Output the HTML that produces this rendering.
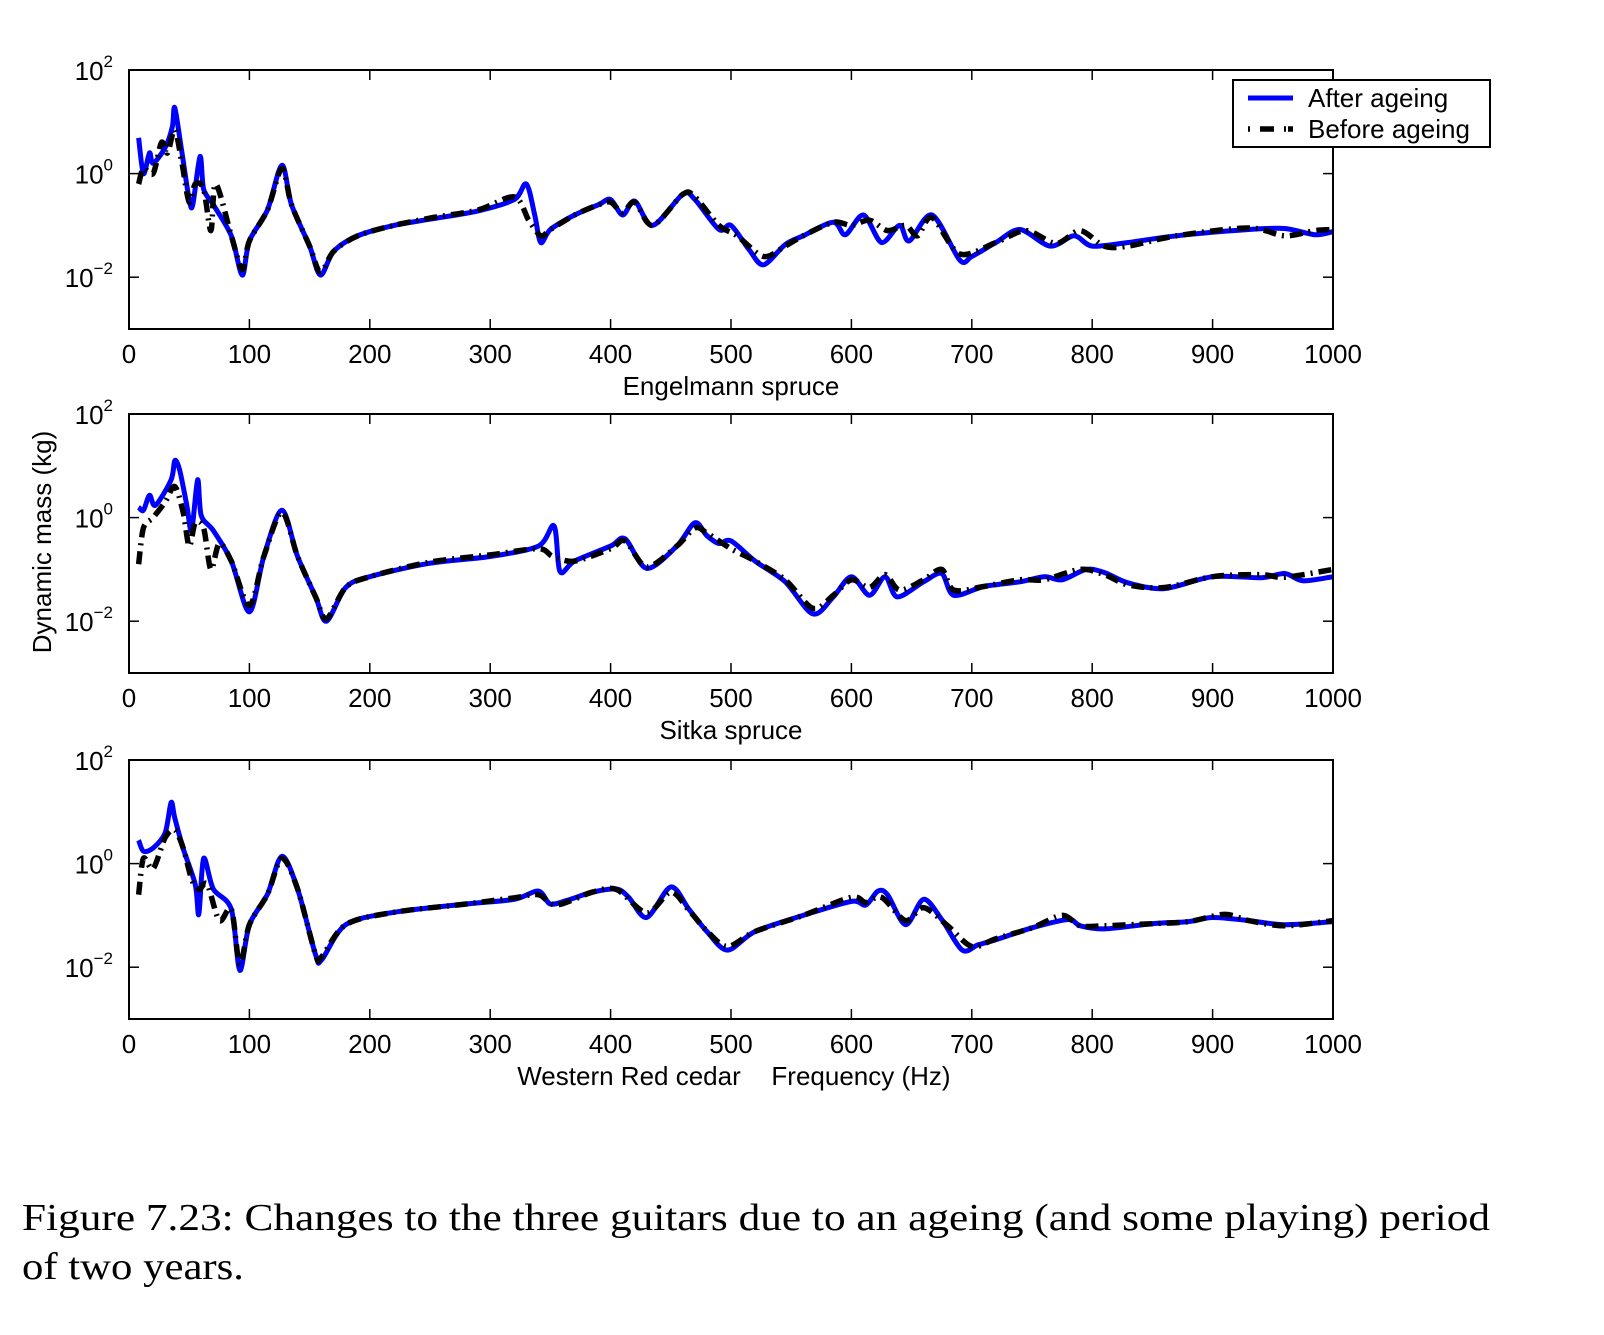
<!DOCTYPE html>
<html><head><meta charset="utf-8"><style>
body{margin:0;background:#fff;}
svg text{font-family:"Liberation Sans",sans-serif;fill:#000;}
</style></head><body>
<svg id="fig" width="1604" height="1330" viewBox="0 0 1604 1330" xmlns="http://www.w3.org/2000/svg">
<g id="root"></g>
<text x="44" y="542" font-size="26" transform="rotate(-90 44 542)" text-anchor="middle" dominant-baseline="middle">Dynamic mass (kg)</text>
<text x="22" y="1230" font-size="38" textLength="1468" lengthAdjust="spacingAndGlyphs" style="font-family:'Liberation Serif',serif">Figure 7.23:  Changes to the three guitars due to an ageing (and some playing) period</text>
<text x="22" y="1279" font-size="38" textLength="222" lengthAdjust="spacingAndGlyphs" style="font-family:'Liberation Serif',serif">of two years.</text>
</svg>
<script>
const xTicks=[0,100,200,300,400,500,600,700,800,900,1000];
const yTickExp=[2,0,-2];
const panelTitles=["Engelmann spruce","Sitka spruce","Western Red cedar"];
// [freq Hz, log10(kg)]
const after1=[[8,0.69],[12,0],[17,0.4],[20,0.2],[30,0.5],[36,0.9],[38,1.27],[44,0.4],[50,-0.5],[53,-0.6],[59,0.33],[62,-0.3],[70,-0.6],[85,-1.2],[94,-1.96],[100,-1.3],[115,-0.7],[127,0.16],[135,-0.6],[150,-1.4],[159,-1.96],[170,-1.5],[190,-1.2],[220,-1.0],[250,-0.88],[290,-0.72],[320,-0.5],[330,-0.2],[337,-0.8],[342,-1.33],[350,-1.08],[370,-0.8],[390,-0.6],[400,-0.5],[410,-0.8],[420,-0.53],[435,-1.0],[460,-0.4],[470,-0.5],[490,-1.08],[500,-1.0],[515,-1.47],[527,-1.76],[545,-1.37],[560,-1.2],[585,-0.94],[595,-1.18],[610,-0.8],[625,-1.33],[640,-1.0],[648,-1.3],[667,-0.8],[690,-1.67],[700,-1.6],[720,-1.33],[740,-1.08],[765,-1.4],[785,-1.2],[800,-1.4],[830,-1.33],[870,-1.2],[930,-1.08],[960,-1.06],[985,-1.18],[1000,-1.12]];
const before1=[[8,-0.2],[12,0.1],[20,0.0],[27,0.6],[32,0.4],[38,0.85],[44,0.2],[50,-0.55],[55,-0.2],[62,-0.3],[68,-1.1],[72,-0.2],[85,-1.2],[94,-1.85],[100,-1.3],[115,-0.7],[127,0.1],[135,-0.6],[150,-1.4],[159,-1.9],[170,-1.5],[190,-1.2],[220,-1.0],[250,-0.86],[290,-0.7],[320,-0.45],[332,-0.9],[342,-1.2],[350,-1.08],[370,-0.8],[390,-0.6],[400,-0.55],[410,-0.75],[420,-0.55],[435,-1.0],[460,-0.4],[470,-0.45],[490,-1.0],[505,-1.2],[527,-1.6],[545,-1.4],[560,-1.2],[585,-0.94],[600,-1.0],[615,-0.9],[630,-1.1],[645,-1.0],[655,-1.2],[667,-0.85],[690,-1.55],[720,-1.33],[745,-1.1],[770,-1.35],[790,-1.1],[810,-1.4],[830,-1.4],[870,-1.2],[930,-1.05],[960,-1.2],[985,-1.1],[1000,-1.08]];
const after2=[[8,0.2],[12,0.14],[17,0.43],[22,0.24],[35,0.73],[38,1.1],[42,0.92],[48,0.24],[52,-0.25],[57,0.73],[60,0.04],[70,-0.25],[85,-0.84],[100,-1.82],[112,-0.75],[127,0.14],[140,-0.75],[155,-1.53],[164,-2.0],[180,-1.35],[200,-1.14],[250,-0.88],[300,-0.75],[340,-0.55],[353,-0.16],[358,-1.04],[370,-0.84],[400,-0.55],[412,-0.41],[430,-0.98],[455,-0.55],[470,-0.1],[480,-0.35],[490,-0.5],[500,-0.45],[520,-0.84],[545,-1.24],[568,-1.86],[585,-1.53],[600,-1.14],[615,-1.5],[628,-1.14],[638,-1.53],[660,-1.24],[675,-1.08],[685,-1.5],[710,-1.33],[740,-1.24],[760,-1.14],[775,-1.2],[795,-1.0],[810,-1.06],[830,-1.26],[860,-1.37],[900,-1.14],[940,-1.16],[960,-1.08],[975,-1.22],[1000,-1.14]];
const before2=[[8,-0.9],[12,-0.2],[20,0.0],[30,0.3],[38,0.6],[45,0.1],[50,-0.55],[55,-0.1],[62,-0.2],[68,-1.0],[75,-0.5],[85,-0.84],[100,-1.7],[112,-0.75],[127,0.1],[140,-0.75],[155,-1.53],[164,-1.95],[180,-1.35],[200,-1.14],[250,-0.86],[300,-0.72],[340,-0.6],[352,-0.75],[370,-0.84],[400,-0.6],[412,-0.45],[430,-0.95],[455,-0.55],[470,-0.2],[480,-0.3],[500,-0.6],[520,-0.84],[545,-1.2],[568,-1.75],[585,-1.5],[600,-1.2],[615,-1.35],[628,-1.1],[640,-1.4],[660,-1.2],[675,-1.0],[685,-1.4],[710,-1.33],[740,-1.2],[760,-1.2],[790,-1.0],[810,-1.1],[830,-1.3],[860,-1.35],[900,-1.14],[940,-1.1],[960,-1.15],[1000,-1.0]];
const after3=[[8,0.45],[12,0.24],[20,0.3],[30,0.59],[35,1.18],[38,0.88],[45,0.29],[55,-0.4],[58,-0.98],[62,0.1],[70,-0.49],[85,-0.88],[92,-2.06],[100,-1.18],[115,-0.59],[127,0.14],[140,-0.49],[155,-1.76],[160,-1.86],[180,-1.18],[220,-0.94],[280,-0.78],[320,-0.69],[340,-0.53],[350,-0.78],[365,-0.7],[385,-0.55],[405,-0.49],[415,-0.65],[430,-1.04],[450,-0.45],[465,-0.88],[480,-1.31],[497,-1.67],[520,-1.31],[560,-1.0],[600,-0.73],[612,-0.8],[622,-0.53],[630,-0.6],[645,-1.18],[660,-0.69],[675,-1.08],[692,-1.67],[705,-1.57],[720,-1.47],[750,-1.24],[780,-1.08],[790,-1.2],[810,-1.26],[850,-1.16],[880,-1.12],[900,-1.04],[930,-1.1],[960,-1.18],[1000,-1.12]];
const before3=[[8,-0.6],[12,0.1],[20,-0.1],[30,0.5],[38,0.65],[45,0.3],[52,-0.3],[58,-0.5],[65,-0.4],[75,-1.1],[85,-0.88],[92,-1.95],[100,-1.18],[115,-0.59],[127,0.1],[140,-0.49],[155,-1.76],[160,-1.8],[180,-1.18],[220,-0.94],[280,-0.78],[320,-0.66],[340,-0.6],[355,-0.8],[385,-0.55],[405,-0.5],[430,-0.95],[450,-0.55],[465,-0.9],[480,-1.3],[497,-1.6],[520,-1.31],[560,-1.0],[600,-0.65],[612,-0.75],[625,-0.65],[645,-1.1],[660,-0.85],[680,-1.2],[700,-1.6],[720,-1.45],[750,-1.24],[775,-1.0],[790,-1.2],[810,-1.2],[850,-1.16],[880,-1.12],[910,-0.98],[930,-1.1],[960,-1.2],[1000,-1.1]];
const afterSeries=[after1,after2,after3];
const beforeSeries=[before1,before2,before3];

const NS="http://www.w3.org/2000/svg";
const root=document.getElementById('root');
const L=129,R=1333,tops=[70,414,760],H=259;
function mk(tag,attrs,parent){const e=document.createElementNS(NS,tag);for(const k in attrs)e.setAttribute(k,attrs[k]);(parent||root).appendChild(e);return e;}
function xs(f){return L+(R-L)*f/1000;}
function ys(top,lg){return top+(2-lg)/5*H;}
function smooth(P){
  let d='M'+P[0][0].toFixed(1)+','+P[0][1].toFixed(1);
  for(let i=0;i<P.length-1;i++){
    const p0=P[i-1]||P[i],p1=P[i],p2=P[i+1],p3=P[i+2]||P[i+1];
    const t=0.15;
    const c1=[p1[0]+(p2[0]-p0[0])*t,p1[1]+(p2[1]-p0[1])*t];
    const c2=[p2[0]-(p3[0]-p1[0])*t,p2[1]-(p3[1]-p1[1])*t];
    d+=' C'+c1[0].toFixed(1)+','+c1[1].toFixed(1)+' '+c2[0].toFixed(1)+','+c2[1].toFixed(1)+' '+p2[0].toFixed(1)+','+p2[1].toFixed(1);
  }
  return d;
}
for(let p=0;p<3;p++){
  const top=tops[p],bot=top+H;
  const g=mk('g',{});
  
  
  const clip=mk('clipPath',{id:'c'+p},g);mk('rect',{x:L,y:top,width:R-L,height:H},clip);
  xTicks.forEach(t=>{
    const x=xs(t);
    mk('line',{x1:x,x2:x,y1:bot,y2:bot-10,stroke:'#000','stroke-width':1.5},g);
    mk('line',{x1:x,x2:x,y1:top,y2:top+10,stroke:'#000','stroke-width':1.5},g);
    const tx=mk('text',{x:x,y:bot+34,'font-size':26,'text-anchor':'middle'},g);tx.textContent=t;
    
    
  });
  yTickExp.forEach(e=>{
    const y=ys(top,e);
    mk('line',{x1:L,x2:L+10,y1:y,y2:y,stroke:'#000','stroke-width':1.5},g);
    mk('line',{x1:R,x2:R-10,y1:y,y2:y,stroke:'#000','stroke-width':1.5},g);
    const tx=mk('text',{x:L-16,y:y+10,'font-size':26,'text-anchor':'end'},g);
    
    
    tx.innerHTML='10<tspan dy="-13" font-size="17">'+(e<0?'\u2212'+(-e):e)+'</tspan>';
  });
  const mkPath=(d,style,name)=>{
    const pts=d.map(q=>[xs(q[0]),ys(top,q[1])]);
    const pl=mk('path',Object.assign({d:smooth(pts),fill:'none','clip-path':'url(#c'+p+')','stroke-linejoin':'round'},style),g);
    
    
  };
  mkPath(afterSeries[p],{stroke:'#0000ff','stroke-width':5},'after-ageing-line');
  mkPath(beforeSeries[p],{stroke:'#000','stroke-width':5.5,'stroke-dasharray':'13 6 2 6'},'before-ageing-line');
  mk('rect',{x:L,y:top,width:R-L,height:H,fill:'none',stroke:'#000','stroke-width':2},g);
  const tt=mk('text',{x:p==2?629:(L+R)/2,y:bot+66,'font-size':26,'text-anchor':'middle'},g);
  tt.textContent=panelTitles[p];
  
  
}
const xt=mk('text',{x:861,y:tops[2]+H+66,'font-size':26,'text-anchor':'middle'});
xt.textContent='Frequency (Hz)';


// legend
const lg=mk('g',{});


mk('rect',{x:1233,y:80,width:257,height:67,fill:'#fff',stroke:'#000','stroke-width':2},lg);
mk('line',{x1:1248,x2:1293,y1:98,y2:98,stroke:'#0000ff','stroke-width':5},lg);
mk('line',{x1:1248,x2:1293,y1:129,y2:129,stroke:'#000','stroke-width':5.5,'stroke-dasharray':'2 10 14 10 2'},lg);
const t1=mk('text',{x:1308,y:107,'font-size':26},lg);t1.textContent='After ageing';


const t2=mk('text',{x:1308,y:138,'font-size':26},lg);t2.textContent='Before ageing';


</script>
</body></html>
